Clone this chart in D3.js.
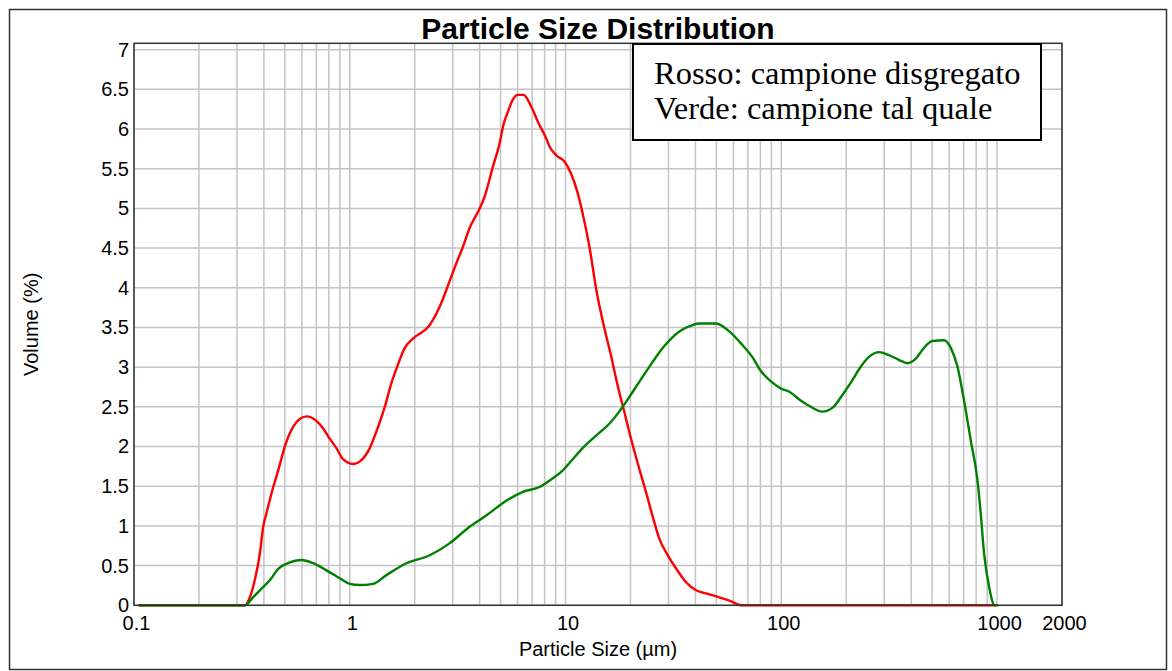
<!DOCTYPE html>
<html>
<head>
<meta charset="utf-8">
<script src="https://cdn.jsdelivr.net/npm/d3@7"></script>
<style>
    body { margin: 0; background: #fff; }
    text { font-family: Arial, "Liberation Sans", sans-serif; fill: #000; }
</style>
</head>
<body>
<svg id="chart"></svg>
<script>
const width = 1172;
const height = 671;
const plot = {left: 134, right: 1062, top: 43.3, bottom: 605.3};

// data: particle size (µm) and volume (%)
const redSizes = [0.105, 0.327, 0.344, 0.363, 0.383, 0.397, 0.411, 0.442, 0.466, 0.50, 0.547, 0.588, 0.631, 0.702, 0.752,
    0.807, 0.867, 0.931, 1.036, 1.112, 1.238, 1.329, 1.453, 1.560, 1.645, 1.797, 1.963, 2.346, 2.61, 2.90, 3.12, 3.35,
    3.59, 4.0, 4.22, 4.61, 4.95, 5.13, 5.41, 5.70, 6.01, 6.39, 6.94, 7.45, 8.14, 8.43, 9.06, 9.89, 10.6, 11.4, 12.0,
    12.9, 13.9, 15.2, 16.3, 17.2, 17.8, 18.8, 19.8, 21.6, 23.7, 25.4, 27.2, 29.8, 32.6, 36.2, 40.3, 44.8, 51.6, 57.4,
    65.9, 980];
const redVolumes = [0, 0, 0.10, 0.32, 0.65, 0.99, 1.16, 1.49, 1.70, 2.00, 2.25, 2.35, 2.38, 2.32, 2.23,
    2.10, 1.98, 1.84, 1.78, 1.81, 1.98, 2.19, 2.50, 2.80, 2.98, 3.24, 3.36, 3.53, 3.76, 4.08, 4.31, 4.52,
    4.75, 5.00, 5.15, 5.53, 5.82, 6.03, 6.22, 6.37, 6.43, 6.43, 6.28, 6.09, 5.88, 5.78, 5.67, 5.59, 5.44, 5.19, 4.94,
    4.52, 3.97, 3.47, 3.13, 2.84, 2.67, 2.42, 2.17, 1.79, 1.41, 1.11, 0.84, 0.63, 0.46, 0.29, 0.19, 0.15, 0.10, 0.06,
    0, 0];

const greenSizes = [0.105, 0.327, 0.356, 0.390, 0.426, 0.466, 0.518, 0.598, 0.676, 0.780, 0.899, 1.0, 1.112, 1.282,
    1.478, 1.831, 2.346, 2.90, 3.59, 4.29, 5.13, 6.35, 7.58, 8.74, 9.72, 10.8, 12.0, 13.9, 16.0, 18.4, 20.5, 22.8,
    25.4, 28.2, 33.7, 38.8, 41.7, 49.9, 57.4, 65.0, 75.0, 79.1, 89.6, 99.7, 109, 123, 135, 155, 173, 192, 214, 230,
    255, 284, 316, 352, 385, 421, 451, 501, 568, 611, 655, 703, 755, 811, 840, 871, 919, 975, 1010];
const greenVolumes = [0, 0, 0.10, 0.21, 0.315, 0.46, 0.53, 0.57, 0.53, 0.44, 0.34, 0.27, 0.255, 0.27,
    0.38, 0.53, 0.63, 0.78, 0.99, 1.13, 1.29, 1.43, 1.49, 1.60, 1.70, 1.84, 1.98, 2.14, 2.29, 2.50, 2.69, 2.88,
    3.07, 3.24, 3.45, 3.53, 3.55, 3.55, 3.45, 3.30, 3.09, 2.98, 2.82, 2.73, 2.69, 2.58, 2.51, 2.44, 2.49, 2.65, 2.84, 2.98,
    3.13, 3.19, 3.15, 3.09, 3.05, 3.11, 3.22, 3.33, 3.34, 3.24, 3.01, 2.58, 2.08, 1.58, 1.16, 0.65, 0.23, 0, 0];

const xTicks = [0.1, 1, 10, 100, 1000, 2000];
const xTickLabels = ['0.1', '1', '10', '100', '1000', '2000'];
const yTicks = [0, 0.5, 1, 1.5, 2, 2.5, 3, 3.5, 4, 4.5, 5, 5.5, 6, 6.5, 7];
const legendLines = ['Rosso: campione disgregato', 'Verde: campione tal quale'];

// minor log grid: 0.2..0.9, 2..9, ... up to 2000
const xGrid = [];
[0.1, 1, 10, 100, 1000].forEach(dec => {
    for (let k = 1; k <= 9; k++) {
        if (dec * k <= 2000) xGrid.push(dec * k);
    }
});
xGrid.push(2000);

const svg = d3.select('#chart')
    .attr('width', width)
    .attr('height', height);

const x = d3.scaleLog().domain([0.1, 2000]).range([plot.left, plot.right]);
const y = d3.scaleLinear().domain([0, 7.08]).range([plot.bottom, plot.top]);

// outer frame
svg.append('rect')
    .attr('x', 9.5).attr('y', 9.5)
    .attr('width', 1157).attr('height', 660)
    .attr('fill', 'none').attr('stroke', '#333').attr('stroke-width', 1.5);

// grid
const grid = svg.append('g');
grid.selectAll('.vgrid').data(xGrid).enter().append('line')
    .attr('x1', d => x(d)).attr('x2', d => x(d))
    .attr('y1', plot.top).attr('y2', plot.bottom)
    .attr('stroke', '#c4c4c4').attr('stroke-width', 1.5);
grid.selectAll('.hgrid').data(yTicks).enter().append('line')
    .attr('x1', plot.left).attr('x2', plot.right)
    .attr('y1', d => y(d)).attr('y2', d => y(d))
    .attr('stroke', '#c4c4c4').attr('stroke-width', 1.5);

// axes (labels only, no tick marks)
const xAxis = svg.append('g')
    .attr('transform', `translate(2, ${plot.bottom})`)
    .call(d3.axisBottom(x).tickValues(xTicks).tickSize(0).tickPadding(11)
        .tickFormat((d, i) => xTickLabels[i]));
const yAxis = svg.append('g')
    .attr('transform', `translate(${plot.left - 5}, 0)`)
    .call(d3.axisLeft(y).tickValues(yTicks).tickSize(0).tickPadding(0)
        .tickFormat(d => String(d)));
[xAxis, yAxis].forEach(a => {
    a.select('.domain').remove();
    a.selectAll('text').style('font-family', 'Arial, "Liberation Sans", sans-serif')
        .style('font-size', '20px').attr('fill', '#000');
});

// curves
const line = d3.line()
    .x(d => x(d[0]))
    .y(d => y(d[1]))
    .curve(d3.curveMonotoneX);

const redData = d3.zip(redSizes, redVolumes);
const greenData = d3.zip(greenSizes, greenVolumes);

svg.append('path').datum(redData)
    .attr('d', line)
    .attr('fill', 'none').attr('stroke', '#ff0000').attr('stroke-width', 2.4);
svg.append('path').datum(greenData)
    .attr('d', line)
    .attr('fill', 'none').attr('stroke', '#008000').attr('stroke-width', 2.4);

// plot border
svg.append('rect')
    .attr('x', plot.left).attr('y', plot.top)
    .attr('width', plot.right - plot.left).attr('height', plot.bottom - plot.top)
    .attr('fill', 'none').attr('stroke', '#333').attr('stroke-width', 1.5);

// title + axis labels
svg.append('text')
    .attr('x', 598).attr('y', 39.3)
    .attr('text-anchor', 'middle')
    .style('font-size', '30px').style('font-weight', 'bold')
    .text('Particle Size Distribution');

svg.append('text')
    .attr('x', 598).attr('y', 656)
    .attr('text-anchor', 'middle')
    .style('font-size', '20px')
    .text('Particle Size (µm)');

svg.append('text')
    .attr('transform', `translate(38, ${(plot.top + plot.bottom) / 2}) rotate(-90)`)
    .attr('text-anchor', 'middle')
    .style('font-size', '20px')
    .text('Volume (%)');

// legend box
const legend = svg.append('g');
legend.append('rect')
    .attr('x', 633).attr('y', 44)
    .attr('width', 408).attr('height', 96)
    .attr('fill', '#fff').attr('stroke', '#000').attr('stroke-width', 2);
legend.selectAll('text').data(legendLines).enter().append('text')
    .attr('x', 654)
    .attr('y', (d, i) => 84 + i * 35)
    .style('font-family', '"Liberation Serif", "Times New Roman", serif')
    .style('font-size', '32.5px')
    .text(d => d);
</script>
</body>
</html>
